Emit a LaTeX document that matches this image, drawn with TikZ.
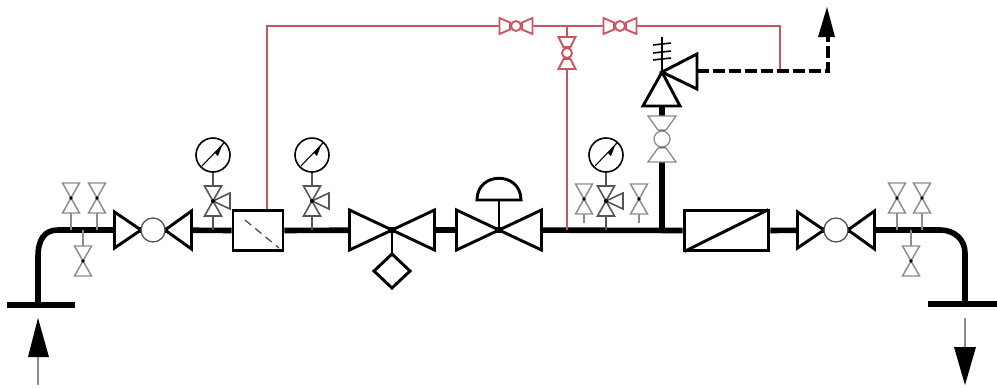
\documentclass[tikz,border=0pt]{standalone}
\definecolor{pipered}{RGB}{200,85,95}
\definecolor{softgray}{RGB}{140,140,140}
\definecolor{midgray}{RGB}{85,85,85}
\tikzset{
  x=0.75pt,y=-0.75pt,
  pipe/.style={line width=4.2pt,black},
  body/.style={line width=2.2pt,black,line join=miter},
  redline/.style={line width=1.1pt,pipered},
  redvalve/.style={draw=pipered,line width=1.4pt,fill=white},
  softvalve/.style={draw=softgray,line width=1.1pt,fill=white},
  midvalve/.style={draw=midgray,line width=1.2pt,fill=white},
  softstem/.style={line width=1pt,softgray},
  midstem/.style={line width=1.2pt,midgray},
  dashpipe/.style={line width=2.8pt,black,dash pattern=on 9pt off 3pt},
  boxnode/.style={draw,line width=2.2pt,fill=white,inner sep=0pt},
  headfill/.style={fill=black,draw=none},
  vbow/.pic={
    \path[pic actions] (-8.5,-15)--(8.5,-15)--(-8.5,15)--(8.5,15)--cycle;
    \fill[black] (0,0) circle (1.8);
  },
  sidetri/.pic={
    \path[pic actions] (0,0)--(17,-8)--(17,8)--cycle;
  },
  gaugeface/.pic={
    \draw[line width=1.2pt,black,fill=white] (0,0) circle (17);
    \draw[line width=.8pt,black] (-11,11)--(11,-12);
    \fill[black] (10,-12)--(2,-2)--(5,1)--cycle;
  },
  ballh/.pic={
    \draw[body,fill=white] (-38.5,-18)--(-12,0)--(-38.5,18)--cycle;
    \draw[body,fill=white] (38.5,-19)--(12,0)--(38.5,19)--cycle;
    \draw[line width=1pt,midgray,fill=white] (0,0) circle (12);
  },
  smallball/.pic={
    \path[pic actions] (-16.5,-8)--(-6,-3.5)--(-6,3.5)--(-16.5,8)--cycle;
    \path[pic actions] (16.5,-8)--(6,-3.5)--(6,3.5)--(16.5,8)--cycle;
    \path[pic actions] (0,0) circle (5);
  },
  smallballv/.pic={
    \path[pic actions] (-8.5,-16)--(-3.5,-6)--(3.5,-6)--(8.5,-16)--cycle;
    \path[pic actions] (-8.5,16)--(-3.5,6)--(3.5,6)--(8.5,16)--cycle;
    \path[pic actions] (0,0) circle (5);
  },
  bigtie/.pic={
    \draw[body,fill=white] (-42.5,-20)--(0,0)--(-42.5,20)--cycle;
    \draw[body,fill=white] (42.5,-20)--(0,0)--(42.5,20)--cycle;
  },
}
\begin{document}
\begin{tikzpicture}
\useasboundingbox (0,0) rectangle (997,387);

% named points
\coordinate (inFlange) at (38,305);
\coordinate (inBend) at (38,257);
\coordinate (inEnd) at (58,230);
\coordinate (ballA) at (153,230);
\coordinate (tieA) at (392,230);
\coordinate (tieB) at (499,230);
\coordinate (teeRed) at (567,230);
\coordinate (teeRiser) at (662,230);
\coordinate (ballB) at (836,230);
\coordinate (outBend) at (965,253);
\coordinate (outStart) at (940,230);
\coordinate (outFlange) at (965,304);
\coordinate (safety) at (662,72);
\coordinate (safetyBase) at (662,106);
\coordinate (ballV) at (662,139);
\coordinate (redCorner) at (267,26);
\coordinate (redTee) at (567,26);
\coordinate (redEnd) at (780,26);
\coordinate (redDrop) at (780,71);
\coordinate (redValveL) at (516,26);
\coordinate (redValveR) at (620,26);
\coordinate (redValveV) at (567,53);
\coordinate (ventStart) at (697,71);
\coordinate (ventCorner) at (828,71);
\coordinate (ventTop) at (828,37);

\node[boxnode,minimum width=37.5pt,minimum height=30.5pt] (filter) at (258,230.5) {};
\node[boxnode,minimum width=63.5pt,minimum height=30.5pt] (meter) at (726.5,230.5) {};

% main pipe
\draw[pipe] (inFlange) -- (inBend) .. controls (38,240) and (44,230) .. (inEnd) -- (ballA);
\draw[pipe] (ballA) -- (filter.west);
\draw[pipe] (filter.east) -- (tieA);
\draw[pipe] (tieA) -- (tieB);
\draw[pipe] (tieB) -- (meter.west);
\draw[pipe] (meter.east) -- (ballB);
\draw[pipe] (ballB) -- (outStart) .. controls (955,230) and (965,240) .. (outBend) -- (outFlange);
\draw[pipe] (teeRiser) -- (ballV);
\draw[pipe] (ballV) -- (safetyBase);
\draw[pipe] (7,305) -- (75,305);
\draw[pipe] (928,304) -- (997,304);

% filter and meter redraw
\node[boxnode,minimum width=37.5pt,minimum height=30.5pt] at (258,230.5) {};
\node[boxnode,minimum width=63.5pt,minimum height=30.5pt] at (726.5,230.5) {};
\draw[line width=1pt,midgray,dash pattern=on 6pt off 4pt] (245,220) -- (279,248);
\draw[line width=2.2pt,black,shorten >=1.5pt,shorten <=1.5pt] (meter.south west) -- (meter.north east);

% red control line
\draw[redline] (filter.north -| redCorner) -- (redCorner) -- (redEnd) -- (redDrop);
\draw[redline] (redTee) -- (teeRed);
\pic[redvalve] at (redValveL) {smallball};
\pic[redvalve] at (redValveR) {smallball};
\pic[redvalve] at (redValveV) {smallballv};

% ball valves
\pic at (ballA) {ballh};
\pic at (ballB) {ballh};

% big valves
\draw[body] (tieA) -- (392,255);
\pic at (tieA) {bigtie};
\draw[body,fill=white] (392,254) -- (410,271) -- (392,288) -- (374,271) -- cycle;
\draw[body] (tieB) -- (499,200);
\pic at (tieB) {bigtie};
\draw[body,fill=white] (477,200) .. controls (477,171) and (521,171) .. (521,200) -- cycle;

% inlet vents
\foreach \nm/\vx in {a/71,b/97,c/897,d/922}{
  \coordinate (vent\nm) at (\vx,198);
  \draw[softstem] (vent\nm) -- (\vx,230);
  \pic[softvalve] at (vent\nm) {vbow};
}
\draw[softstem] (83,230) -- (83,246);
\pic[softvalve] at (83,261) {vbow};
\draw[softstem] (911,230) -- (911,246);
\pic[softvalve] at (911,261) {vbow};
\foreach \vx in {584,639}{
  \draw[softstem] (\vx,199) -- (\vx,223);
  \pic[softvalve] at (\vx,199) {vbow};
}

% gauges with three-way valves
\foreach \vx in {213,312,606}{
  \draw[midstem] (\vx,170) -- (\vx,230);
  \pic[midvalve] at (\vx,201) {vbow};
  \pic[midvalve] at (\vx,201) {sidetri};
  \fill[black] (\vx,201) circle (2);
  \pic at (\vx,155) {gaugeface};
}

% vertical ball valve below safety valve
\draw[line width=1pt,softgray,fill=white] (648,116)--(676,116)--(666,130)--(658,130)--cycle;
\draw[line width=1pt,softgray,fill=white] (648,162)--(676,162)--(666,148)--(658,148)--cycle;
\draw[line width=1pt,softgray,fill=white] (ballV) circle (8);

% safety valve
\draw[line width=1.3pt,black] (safety) -- (662,37);
\foreach \by in {44,52,59}{
  \draw[line width=1.2pt,black] (653,\by+1) -- (671,\by-1);
}
\draw[body,fill=white] (safety) -- (680,106) -- (643,106) -- cycle;
\draw[body,fill=white] (safety) -- (697,54) -- (697,89) -- cycle;

% vent dashed line
\draw[dashpipe] (ventStart) -- (ventCorner) -- (ventTop);
\fill[headfill] (827,7) -- (835,37) -- (818,37) -- cycle;

% flow arrows
\draw[line width=1.3pt,softgray] (38,385) -- (38,355);
\fill[headfill] (38,318) -- (49,357) -- (28,357) -- cycle;
\draw[line width=1.3pt,softgray] (965,318) -- (965,349);
\fill[headfill] (965,385) -- (976,347) -- (954,347) -- cycle;
\end{tikzpicture}
\end{document}
